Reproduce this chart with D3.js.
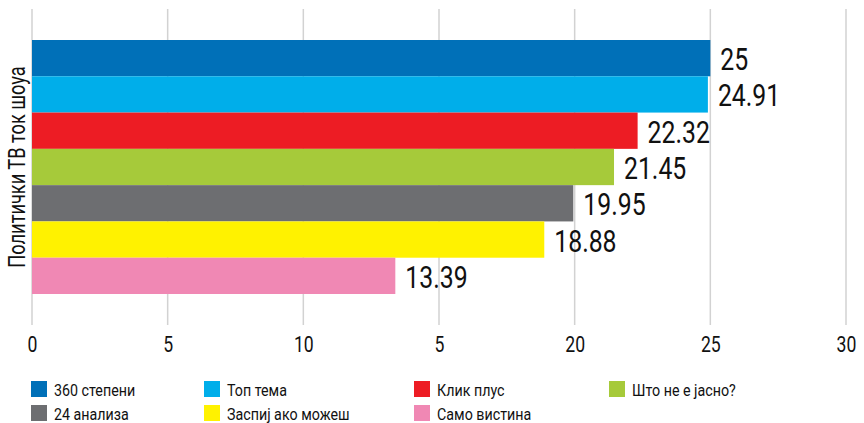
<!DOCTYPE html>
<html>
<head>
<meta charset="utf-8">
<script src="https://cdn.jsdelivr.net/npm/d3@7"></script>
<style>
  body { margin: 0; background: #fff; }
  svg text { font-family: Roboto, "Noto Sans", sans-serif; fill: #111; }
</style>
</head>
<body>
<div class="graphic"></div>
<script>
var category = 'Политички ТВ ток шоуа';
var seriesNames = ['360 степени', 'Топ тема', 'Клик плус', 'Што не е јасно?', '24 анализа', 'Заспиј ако можеш', 'Само вистина'];
var seriesValues = [25, 24.91, 22.32, 21.45, 19.95, 18.88, 13.39];
var valueLabels = ['25', '24.91', '22.32', '21.45', '19.95', '18.88', '13.39'];
var seriesColors = ['#0070b8', '#00aeea', '#ed1c24', '#a6ca3a', '#6d6e71', '#fff200', '#f088b4'];
var tickValues = [0, 5, 10, 15, 20, 25, 30];
var tickLabels = ['0', '5', '10', '5', '20', '25', '30'];

var width = 864, height = 423;
var plot = { left: 32, right: 846, top: 9, bottom: 325 };
var narrow = 0.8; // squeeze text horizontally to look like a condensed face

var svg = d3.select('.graphic').append('svg')
  .attr('width', width)
  .attr('height', height);

var x = d3.scaleLinear().domain([0, 30]).range([plot.left, plot.right]);
var y = d3.scaleBand().domain(seriesNames).range([40, 294]);

// vertical grid
svg.append('g').selectAll('line')
  .data(tickValues)
  .enter().append('line')
  .attr('x1', function (d) { return x(d); })
  .attr('x2', function (d) { return x(d); })
  .attr('y1', plot.top)
  .attr('y2', plot.bottom)
  .attr('stroke', '#d2d2d2')
  .attr('stroke-width', 1.5);

// bars
var bars = seriesNames.map(function (name, i) {
  return { name: name, value: seriesValues[i], label: valueLabels[i], color: seriesColors[i] };
});

svg.append('g').selectAll('rect')
  .data(bars)
  .enter().append('rect')
  .attr('x', x(0))
  .attr('y', function (d) { return y(d.name); })
  .attr('width', function (d) { return x(d.value) - x(0); })
  .attr('height', y.bandwidth())
  .attr('fill', function (d) { return d.color; });

svg.append('g').selectAll('text')
  .data(bars)
  .enter().append('text')
  .attr('transform', 'scale(' + narrow + ',1)')
  .attr('x', function (d) { return (x(d.value) + 10) / narrow; })
  .attr('y', function (d) { return y(d.name) + y.bandwidth() / 2 + 12; })
  .attr('font-size', 31)
  .text(function (d) { return d.label; });

// x axis labels
var xAxis = d3.axisBottom(x)
  .tickValues(tickValues)
  .tickSize(0)
  .tickPadding(0)
  .tickFormat(function (d, i) { return tickLabels[i]; });

var axisG = svg.append('g')
  .attr('transform', 'translate(0,' + 336 + ')')
  .attr('font-family', null)
  .call(xAxis);
axisG.select('.domain').remove();
axisG.selectAll('text')
  .attr('font-size', 22)
  .attr('fill', '#111')
  .attr('transform', 'scale(' + narrow + ',1)');

// y axis title
svg.append('text')
  .attr('transform', 'translate(25,' + (y.range()[0] + y.range()[1]) / 2 + ') rotate(-90) scale(0.76,1)')
  .attr('text-anchor', 'middle')
  .attr('font-size', 24)
  .text(category);

// legend
var legendCols = [31, 204, 414, 609];
var legendRows = [381, 405];
var legend = svg.append('g').selectAll('g')
  .data(bars)
  .enter().append('g')
  .attr('transform', function (d, i) {
    return 'translate(' + legendCols[i % 4] + ',' + legendRows[Math.floor(i / 4)] + ')';
  });

legend.append('rect')
  .attr('width', 16)
  .attr('height', 16)
  .attr('fill', function (d) { return d.color; });

legend.append('text')
  .attr('transform', 'scale(0.84,1)')
  .attr('x', 23 / 0.84)
  .attr('y', 15)
  .attr('font-size', 17)
  .text(function (d) { return d.name; });
</script>
</body>
</html>
